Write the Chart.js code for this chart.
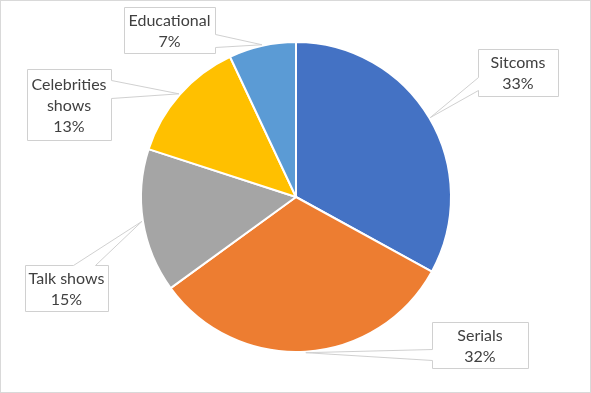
<!DOCTYPE html>
<html><head><meta charset="utf-8">
<script src="https://cdn.jsdelivr.net/npm/chart.js@4/dist/chart.umd.min.js"></script>
<style>html,body{margin:0;padding:0;background:#fff}#wrap{width:591px;height:393px;position:relative}</style>
</head><body><div id="wrap"><canvas id="c" width="591" height="393"></canvas></div>
<script>
const categories = ["Sitcoms", "Serials", "Talk shows", "Celebrities shows", "Educational"];
const shares = [33, 32, 15, 13, 7];
const colors = ["#4472C4", "#ED7D31", "#A5A5A5", "#FFC000", "#5B9BD5"];
const labelLines = [["Sitcoms"], ["Serials"], ["Talk shows"], ["Celebrities", "shows"], ["Educational"]];
// callout boxes: x, y, w, h, side of wedge, wedge base offsets (along that side)
const callouts = [
  {x:478, y:49, w:80, h:47, side:"left", a:28, b:41},
  {x:432, y:322, w:96, h:46, side:"left", a:27, b:38},
  {x:25, y:265, w:83, h:46, side:"top", a:48, b:70},
  {x:27, y:69, w:84, h:71, side:"right", a:11, b:29},
  {x:124, y:7, w:91, h:46, side:"right", a:27, b:40}
];
const FONT = '16px Lato, sans-serif';

const calloutPlugin = {
  id: 'callouts',
  afterDraw(chart) {
    const ctx = chart.ctx;
    const meta = chart.getDatasetMeta(0);
    const total = shares.reduce((s, v) => s + v, 0);
    ctx.save();
    meta.data.forEach((arc, i) => {
      const p = arc.getProps(['x','y','startAngle','endAngle','outerRadius'], true);
      const mid = (p.startAngle + p.endAngle) / 2;
      const r = p.outerRadius + 1;
      const tx = p.x + Math.cos(mid) * r, ty = p.y + Math.sin(mid) * r;
      const c = callouts[i];
      const x0 = c.x + 0.5, y0 = c.y + 0.5, x1 = c.x + c.w + 0.5, y1 = c.y + c.h + 0.5;
      ctx.beginPath();
      ctx.moveTo(x0, y0);
      if (c.side === 'top') { ctx.lineTo(x0 + c.a, y0); ctx.lineTo(tx, ty); ctx.lineTo(x0 + c.b, y0); }
      ctx.lineTo(x1, y0);
      if (c.side === 'right') { ctx.lineTo(x1, y0 + c.a); ctx.lineTo(tx, ty); ctx.lineTo(x1, y0 + c.b); }
      ctx.lineTo(x1, y1);
      ctx.lineTo(x0, y1);
      if (c.side === 'left') { ctx.lineTo(x0, y0 + c.b); ctx.lineTo(tx, ty); ctx.lineTo(x0, y0 + c.a); }
      ctx.closePath();
      ctx.fillStyle = '#ffffff';
      ctx.fill();
      ctx.strokeStyle = '#d0d0d0';
      ctx.lineWidth = 1;
      ctx.stroke();
      const lines = labelLines[i].concat([Math.round(shares[i] / total * 100) + '%']);
      ctx.font = FONT;
      ctx.fillStyle = '#404040';
      ctx.textAlign = 'center';
      ctx.textBaseline = 'middle';
      const lh = 21;
      const cy = c.y + c.h / 2 - (lines.length - 1) * lh / 2 + 1;
      lines.forEach((t, k) => ctx.fillText(t, c.x + c.w / 2, cy + k * lh));
    });
    ctx.strokeStyle = '#d9d9d9';
    ctx.lineWidth = 1;
    ctx.strokeRect(0.5, 0.5, chart.width - 1, chart.height - 1);
    ctx.restore();
  }
};

new Chart(document.getElementById('c'), {
  type: 'pie',
  data: {
    labels: categories,
    datasets: [{ data: shares, backgroundColor: colors, borderColor: '#ffffff', borderWidth: 2 }]
  },
  options: {
    responsive: false,
    animation: false,
    layout: { padding: { left: 140, right: 139, top: 41, bottom: 40 } },
    plugins: { legend: { display: false }, tooltip: { enabled: false } }
  },
  plugins: [calloutPlugin]
});
</script></body></html>
